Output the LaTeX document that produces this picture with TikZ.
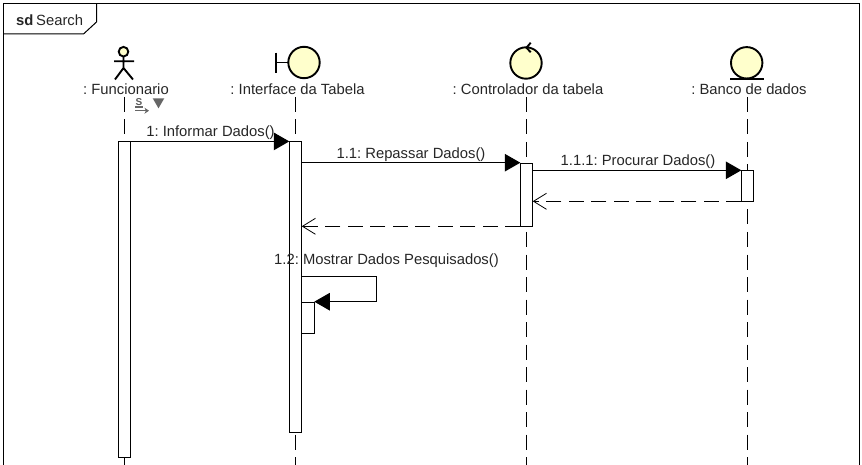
\documentclass[tikz,border=0pt]{standalone}
\usepackage{fontspec}
\setmainfont{Liberation Sans}
\usetikzlibrary{arrows.meta}
\definecolor{iconfill}{RGB}{255,255,204}
\tikzset{
  x=1pt,y=-1pt,
  lbl/.style={font=\frenchspacing\fontsize{14.8}{16}\selectfont,text=black!85,inner sep=0pt,anchor=base},
  stroke/.style={line width=1pt,black},
  lifeline/.style={stroke,dash pattern=on 15pt off 7.5pt},
  act/.style={draw=black,line width=1pt,fill=white,rectangle,inner sep=0pt,outer sep=0pt,minimum width=12.4pt},
  icon/.style={draw=black,line width=1.9pt,fill=iconfill},
  iconline/.style={line width=1.9pt,black},
  sync/.style={stroke,-{Triangle[length=15.5pt,width=17.5pt,fill=black]}},
  reply/.style={stroke,dash pattern=on 15pt off 7.5pt,-{Straight Barb[length=13pt,width=16pt,line width=.8pt]}},
}
\begin{document}
\begin{tikzpicture}
\useasboundingbox (0,0) rectangle (862,465);
% frame
\draw[stroke] (859.5,465) -- (859.5,3.5) -- (3.5,3.5) -- (3.5,465);
\draw[stroke] (3.5,34) -- (83.5,34) -- (96.5,22) -- (96.5,3.5);
\node[lbl,anchor=base west] (sdk) at (16,26) {\textbf{sd}};
\node[lbl,anchor=base west] (sdn) at (36,26) {Search};
% lifelines
\coordinate (ltop1) at (124.5,97);\coordinate (lbot1) at (124.5,465);
\coordinate (ltop2) at (295.5,97);\coordinate (lbot2) at (295.5,465);
\coordinate (ltop3) at (526.5,97);\coordinate (lbot3) at (526.5,465);
\coordinate (ltop4) at (747.5,97);\coordinate (lbot4) at (747.5,465);
\draw[lifeline] (ltop1) -- (lbot1);
\draw[lifeline] (ltop2) -- (lbot2);
\draw[lifeline] (ltop3) -- (lbot3);
\draw[lifeline] (ltop4) -- (lbot4);
% labels
\node[lbl] (l1) at (126,95) {: Funcionario};
\node[lbl] (l2) at (297.5,95) {: Interface da Tabela};
\node[lbl] (l3) at (528,95) {: Controlador da tabela};
\node[lbl] (l4) at (749,95) {: Banco de dados};
% actor
\draw[icon] (123.5,51.7) circle (4.8);
\draw[iconline] (123.5,57) -- (123.5,68) (114,61.3) -- (134,61.3) (115,79.5) -- (123.5,68) -- (133,79.5);
% boundary
\draw[icon] (304,62.5) circle (15.7);
\draw[iconline] (276,52.7) -- (276,73) (276,62.5) -- (288,62.5);
% control
\draw[icon] (526,63) circle (15.7);
\draw[iconline] (530.7,42.7) -- (526.5,47.7) -- (530.7,52.3);
% entity
\draw[icon] (746.7,62.8) circle (15.7);
\draw[iconline] (730,78.7) -- (764,78.7);
% seq icon
\node[font=\fontsize{10}{10}\selectfont\bfseries,text=black!65,inner sep=0pt,anchor=base] (sicon) at (139,105.5) {S};
\draw[black!60,line width=1.3pt] (135,107) -- (143,107);
\draw[black!60,line width=1.3pt,-{Stealth[length=4.5pt,width=6pt]}] (135,110.7) -- (149,110.7);
\fill[black!60] (152.7,98.3) -- (164.3,98.3) -- (158.5,108.3) -- cycle;
% activations
\node[act,minimum height=316pt] (a1) at (124.5,299.4) {};
\node[act,minimum height=291pt] (a2) at (295.5,286.9) {};
\node[act,minimum height=63pt] (a3) at (526.5,194.8) {};
\node[act,minimum height=31pt] (a4) at (747.5,185.8) {};
\node[act,minimum height=31pt,minimum width=12.6pt] (a5) at (308,317.8) {};
% messages
\draw[sync] (a1.north east) -- (a2.north west);
\node[lbl] (m1) at (210.5,137) {1: Informar Dados()};
\coordinate (y11) at (0,162.7);
\draw[sync] (a2.east |- y11) -- (a3.west |- y11);
\node[lbl] (m2) at (411,158.7) {1.1: Repassar Dados()};
\draw[sync] (a3.east |- a4.north) -- (a4.north west);
\node[lbl] (m3) at (638,166) {1.1.1: Procurar Dados()};
\draw[reply] (a4.south west) -- (a3.east |- a4.south);
\draw[reply] (a3.south west) -- (a2.east |- a3.south);
\node[lbl] (m4) at (386.5,264) {1.2: Mostrar Dados Pesquisados()};
\coordinate (y12) at (0,276.3);
\coordinate (y13) at (0,301.7);
\coordinate (xr) at (376.7,0);
\draw[sync] (a2.east |- y12) -- (xr |- y12) -- (xr |- y13) -- (a5.east |- y13);
\end{tikzpicture}
\end{document}
